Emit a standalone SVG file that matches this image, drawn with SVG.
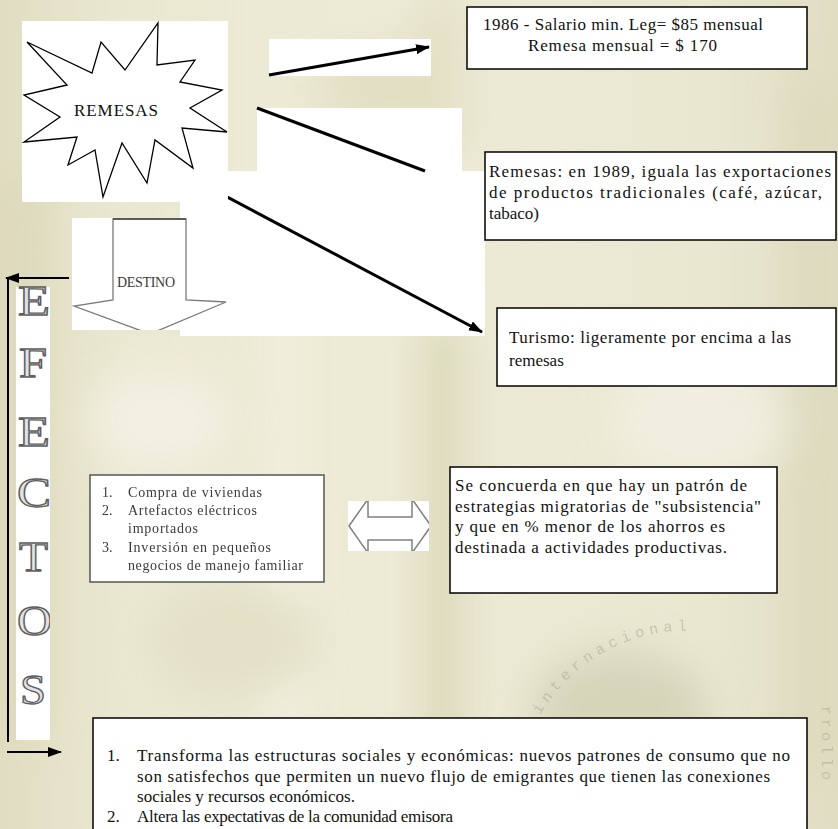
<svg xmlns="http://www.w3.org/2000/svg" width="838" height="829" viewBox="0 0 838 829">
<defs>
<style>
.t{font-family:"Liberation Serif","Times New Roman",serif;font-size:17px;fill:#111}
.s{font-family:"Liberation Serif","Times New Roman",serif;font-size:14px;fill:#3a3a3a}
.box{fill:#fff;stroke:#000;stroke-width:1.5}
.wh{fill:#fff}
.conn{stroke:#000;stroke-width:3;fill:none}
.let{font-family:"Liberation Serif","Times New Roman",serif;font-size:42px;fill:#e2e2e2;stroke:#5e5e5e;stroke-width:1.3}
.wm{font-family:"Liberation Mono","DejaVu Sans Mono",monospace;font-size:15px;fill:#a9a898;opacity:0.55}
</style>
<marker id="ah" markerUnits="userSpaceOnUse" markerWidth="14" markerHeight="10" refX="13" refY="5" orient="auto">
<path d="M0,0 L14,5 L0,10 Z" fill="#000"/>
</marker>
<filter id="blur20" x="-50%" y="-50%" width="200%" height="200%"><feGaussianBlur stdDeviation="20"/></filter>
<filter id="soft"><feGaussianBlur stdDeviation="0.5"/></filter>
<linearGradient id="bg" x1="0" y1="0" x2="1" y2="0">
<stop offset="0" stop-color="#e1ddc2"/>
<stop offset="0.15" stop-color="#ebe8d2"/>
<stop offset="0.5" stop-color="#edead6"/>
<stop offset="0.85" stop-color="#eae7d1"/>
<stop offset="1" stop-color="#e0ddc3"/>
</linearGradient>
<clipPath id="colclip"><rect x="16" y="280" width="34" height="462"/></clipPath>
<clipPath id="destclip"><rect x="72" y="218" width="156" height="112"/></clipPath>
<clipPath id="dblclip"><rect x="348" y="501" width="81" height="50"/></clipPath>
</defs>

<g id="background">
<rect x="0" y="0" width="838" height="829" fill="url(#bg)"/>
<g filter="url(#blur20)" opacity="0.85">
<rect x="0" y="180" width="40" height="560" fill="#dbd7b8"/>
<rect x="270" y="230" width="30" height="600" fill="#f4f2e3"/>
<rect x="425" y="320" width="36" height="510" fill="#d6d4b0"/>
<rect x="420" y="0" width="40" height="150" fill="#e0ddbf"/>
<rect x="790" y="80" width="48" height="700" fill="#dcd9bc"/>
<ellipse cx="620" cy="710" rx="90" ry="60" fill="#d3d2b6"/>
<ellipse cx="380" cy="90" rx="60" ry="40" fill="#e0ddc0"/>
<ellipse cx="160" cy="420" rx="70" ry="50" fill="#f4f2e6"/>
<ellipse cx="700" cy="420" rx="90" ry="60" fill="#f2f0e2"/>
<ellipse cx="230" cy="640" rx="80" ry="60" fill="#e2dfc5"/>
</g>
<path id="wmarc" d="M540,715 A170,170 0 0 1 748,642" fill="none"/>
<text class="wm" letter-spacing="5"><textPath href="#wmarc">internacional</textPath></text>
<text class="wm" transform="translate(822,706) rotate(90)" letter-spacing="4">rrollo</text>
</g>

<g id="connectors">
<rect class="wh" x="269" y="39" width="162" height="37"/>
<rect class="wh" x="257" y="108" width="205" height="63"/>
<rect class="wh" x="180" y="171" width="305" height="165"/>
<line class="conn" x1="269" y1="75" x2="429" y2="47" marker-end="url(#ah)"/>
<line class="conn" x1="257" y1="108" x2="425" y2="171"/>
<line class="conn" x1="180" y1="172" x2="482" y2="332" marker-end="url(#ah)"/>
<line stroke="#000" stroke-width="2" x1="69" y1="278" x2="6" y2="278" marker-end="url(#ah)"/>
<line stroke="#000" stroke-width="2" x1="8" y1="278" x2="8" y2="742"/>
<line stroke="#000" stroke-width="2" x1="7" y1="752" x2="61" y2="752" marker-end="url(#ah)"/>
</g>

<g id="remesas">
<rect class="wh" x="22" y="21" width="206" height="181"/>
<polygon points="27,42 92,73 101,42 125,70 158,23 157,65 195,60 180,82 222,90 190,108 227,132 182,128 193,168 155,140 147,183 122,143 103,197 95,150 68,165 77,137 24,142 60,117 24,95 67,85" fill="#fff" stroke="#000" stroke-width="1.3" stroke-linejoin="miter"/>
<text class="t" x="116" y="116" font-size="18" text-anchor="middle" textLength="84">REMESAS</text>
</g>

<g id="salario">
<rect class="box" x="467" y="7" width="340" height="62"/>
<text class="t" x="483" y="30" textLength="280">1986 - Salario min. Leg= $85 mensual</text>
<text class="t" x="528" y="51" textLength="189">Remesa mensual = $ 170</text>
</g>

<g id="exportaciones">
<rect class="box" x="485" y="152" width="351" height="88"/>
<text class="t" x="489" y="177" textLength="342">Remesas: en 1989, iguala las exportaciones</text>
<text class="t" x="489" y="198" textLength="333">de productos tradicionales (café, azúcar,</text>
<text class="t" x="489" y="219">tabaco)</text>
</g>

<g id="turismo">
<rect class="box" x="497" y="308" width="339" height="78"/>
<text class="t" x="509" y="343" textLength="282">Turismo: ligeramente por encima a las</text>
<text class="t" x="509" y="366">remesas</text>
</g>

<g id="destino">
<rect class="wh" x="72" y="218" width="156" height="112"/>
<polygon clip-path="url(#destclip)" points="113,219 186,219 186,300 226,302 150,334 74,306 113,300" fill="#fff" stroke="#7a7a7a" stroke-width="1.3"/>
<line x1="113" y1="219" x2="186" y2="219" stroke="#444" stroke-width="1.5"/>
<text class="s" x="146" y="287" font-size="12" text-anchor="middle" textLength="58" fill="#555">DESTINO</text>
</g>

<g id="efectos">
<rect class="wh" x="16" y="287" width="34" height="453"/>
<g clip-path="url(#colclip)">
<text class="let" x="18" y="315" textLength="32" lengthAdjust="spacingAndGlyphs">E</text>
<text class="let" x="19" y="377" textLength="28" lengthAdjust="spacingAndGlyphs">F</text>
<text class="let" x="18" y="446" textLength="32" lengthAdjust="spacingAndGlyphs">E</text>
<text class="let" x="17" y="507" textLength="34" lengthAdjust="spacingAndGlyphs">C</text>
<text class="let" x="19" y="571" textLength="29" lengthAdjust="spacingAndGlyphs">T</text>
<text class="let" x="17" y="635" textLength="35" lengthAdjust="spacingAndGlyphs">O</text>
<text class="let" x="20" y="704" textLength="26" lengthAdjust="spacingAndGlyphs">S</text>
</g>
</g>

<g id="usos">
<rect x="90" y="475" width="234" height="107" fill="#fff" stroke="#555" stroke-width="1.5"/>
<g filter="url(#soft)">
<text class="s" x="102" y="497">1.</text>
<text class="s" x="128" y="497" textLength="134">Compra de viviendas</text>
<text class="s" x="102" y="515">2.</text>
<text class="s" x="128" y="515" textLength="129">Artefactos eléctricos</text>
<text class="s" x="128" y="533" textLength="70">importados</text>
<text class="s" x="102" y="552">3.</text>
<text class="s" x="128" y="552" textLength="143">Inversión en pequeños</text>
<text class="s" x="128" y="570" textLength="175">negocios de manejo familiar</text>
</g>
</g>

<g id="doble-flecha">
<rect class="wh" x="348" y="501" width="81" height="50"/>
<polygon clip-path="url(#dblclip)" points="349,526 368,499 368,517 412,517 412,499 431,526 412,553 412,540 368,540 368,553" fill="#fff" stroke="#808080" stroke-width="1.5"/>
</g>

<g id="subsistencia">
<rect class="box" x="450" y="467" width="327" height="126"/>
<text class="t" x="455" y="491" textLength="292">Se concuerda en que hay un patrón de</text>
<text class="t" x="455" y="512" textLength="306">estrategias migratorias de "subsistencia"</text>
<text class="t" x="455" y="532" textLength="270">y que en % menor de los ahorros es</text>
<text class="t" x="455" y="553" textLength="272">destinada a actividades productivas.</text>
</g>

<g id="transforma">
<rect class="box" x="93" y="718" width="714" height="130"/>
<text class="t" x="107" y="761">1.</text>
<text class="t" x="137" y="761" textLength="653">Transforma las estructuras sociales y económicas: nuevos patrones de consumo que no</text>
<text class="t" x="137" y="782" textLength="633">son satisfechos que permiten un nuevo flujo de emigrantes que tienen las conexiones</text>
<text class="t" x="137" y="802" textLength="218">sociales y  recursos económicos.</text>
<text class="t" x="107" y="822">2.</text>
<text class="t" x="137" y="822" textLength="316">Altera las expectativas de la comunidad emisora</text>
</g>
</svg>
